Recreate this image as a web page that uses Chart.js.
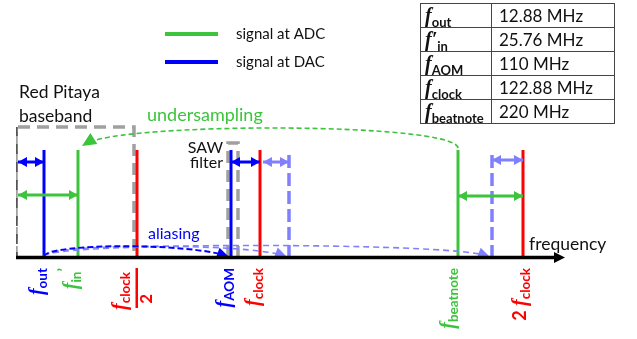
<!DOCTYPE html>
<html>
<head>
<meta charset="utf-8">
<script src="https://cdn.jsdelivr.net/npm/chart.js@4.4.1/dist/chart.umd.min.js"></script>
<style>
  html, body { margin: 0; padding: 0; background: #fff; }
  #wrap { position: relative; width: 637px; height: 339px; }
  #freqTable {
    position: absolute; left: 420px; top: 3px;
    border-collapse: collapse; font-family: Lato, sans-serif; color: #111;
  }
  #freqTable td { border: 1.5px solid #444; height: 23px; padding: 0 0 0 5px; font-size: 17px; line-height: 22px; }
  #freqTable td.sym { width: 66px; padding-left: 4px; white-space: nowrap; }
  #freqTable td.val { width: 115px; padding-left: 7px; }
  .f { font: italic bold 20px "Liberation Serif", serif; }
  .sub { font: bold 13px Lato, sans-serif; position: relative; top: 5px; }
</style>
</head>
<body>
<div id="wrap">
  <canvas id="myChart" width="637" height="339"></canvas>
  <table id="freqTable"></table>
</div>
<script>
// axis units: 1 unit = 2 px in both directions, origin at the left end of the frequency axis
const toneNames = ['out', 'in', 'clock/2', 'AOM', 'clock', 'beatnote', '2 clock'];
const tonePos = [14, 31, 60.5, 107.5, 122, 221, 253.5];
const toneKind = ['dac', 'adc', 'clock', 'dac', 'clock', 'adc', 'clock'];
const toneHeight = 54;

const imagePos = [136.5, 238];

// [from, to, level]
const spanArrows = [[1, 14, 48], [1, 31, 31.5], [107.5, 122, 48], [123.5, 136.5, 48], [238, 253.5, 49], [221, 253.5, 31]];
const spanKind = ['dac', 'adc', 'dac', 'image', 'image', 'adc'];

// [xFrom, xTo, top]
const bands = [[0, 59, 65.5], [106, 111, 57.5]];

// cubic curves: start, control 1, control 2, end
const curves = {
  imageA: [[14, 1], [17, 7.5], [117, 7.5], [135.5, 0.5]],
  imageB: [[14, 1], [17, 8], [217, 8], [237, 0.5]],
  aliasing: [[14, 1], [17, 7.5], [87, 7.5], [106.5, 0.5]],
  undersampling: [[221, 55], [219.5, 68], [52, 68], [33, 56]]
};

const tableSyms = ['out', 'in', 'AOM', 'clock', 'beatnote'];
const tableVals = ['12.88 MHz', '25.76 MHz', '110 MHz', '122.88 MHz', '220 MHz'];

const colors = {
  adc: '#3cc43c',
  dac: '#0000ff',
  clock: '#ff0000',
  image: '#8080ff',
  band: '#a0a0a0'
};

document.addEventListener('DOMContentLoaded', () => {
  const table = document.getElementById('freqTable');
  tableSyms.forEach((s, i) => {
    const prime = s === 'in' ? '\u2032' : '';
    table.insertAdjacentHTML('beforeend',
      `<tr><td class="sym"><span class="f">f${prime}</span><span class="sub">${s}</span></td><td class="val">${tableVals[i]}</td></tr>`);
  });

  const datasets = [];

  spanArrows.forEach(([a, b, lvl], i) => {
    datasets.push({
      data: [{ x: a, y: lvl }, { x: b, y: lvl }],
      borderColor: colors[spanKind[i]],
      borderWidth: 3,
      pointRadius: 0,
      showLine: true,
      arrows: true,
      order: 1
    });
  });

  tonePos.forEach((p, i) => {
    datasets.push({
      data: [{ x: p, y: 0 }, { x: p, y: toneHeight }],
      borderColor: colors[toneKind[i]],
      borderWidth: 3,
      pointRadius: 0,
      showLine: true,
      order: 2
    });
  });

  imagePos.forEach((p) => {
    datasets.push({
      data: [{ x: p, y: 0 }, { x: p, y: toneHeight }],
      borderColor: colors.image,
      borderWidth: 3.5,
      borderDash: [13, 5],
      pointRadius: 0,
      showLine: true,
      order: 3
    });
  });

  bands.forEach(([a, b, top]) => {
    datasets.push({
      data: [{ x: a, y: 0 }, { x: a, y: top }, { x: b, y: top }, { x: b, y: 0 }, { x: a, y: 0 }],
      borderColor: colors.band,
      borderWidth: 3.5,
      borderDash: [12, 7],
      pointRadius: 0,
      showLine: true,
      order: 4
    });
  });
  // left edge of the baseband box: light gray under dark dashes
  datasets.push({
    data: [{ x: bands[0][0], y: 0 }, { x: bands[0][0], y: bands[0][2] }],
    borderColor: '#555',
    borderWidth: 3.5,
    borderDash: [10, 8],
    borderDashOffset: 4,
    pointRadius: 0,
    showLine: true,
    order: 3.5
  });

  const arrowHead = (ctx, tx, ty, dx, dy, len, wid, color) => {
    const n = Math.hypot(dx, dy);
    const ux = dx / n, uy = dy / n;
    ctx.save();
    ctx.fillStyle = color;
    ctx.setLineDash([]);
    ctx.beginPath();
    ctx.moveTo(tx, ty);
    ctx.lineTo(tx - ux * len - uy * wid / 2, ty - uy * len + ux * wid / 2);
    ctx.lineTo(tx - ux * len + uy * wid / 2, ty - uy * len - ux * wid / 2);
    ctx.closePath();
    ctx.fill();
    ctx.restore();
  };

  const drawRotLabel = (ctx, x, yEnd, parts, color) => {
    ctx.save();
    ctx.fillStyle = color;
    let total = 0;
    parts.forEach((p) => { ctx.font = p.font; p.w = ctx.measureText(p.t).width; total += p.w; });
    ctx.translate(x, yEnd);
    ctx.rotate(-Math.PI / 2);
    ctx.textBaseline = 'alphabetic';
    let cx = -total;
    parts.forEach((p) => { ctx.font = p.font; ctx.fillText(p.t, cx, p.off); cx += p.w; });
    ctx.restore();
  };

  const diagramPlugin = {
    id: 'diagram',
    afterDatasetsDraw(chart) {
      const { ctx, scales: { x, y } } = chart;
      const px = (v) => x.getPixelForValue(v);
      const py = (v) => y.getPixelForValue(v);

      // span arrowheads
      chart.data.datasets.forEach((ds, i) => {
        if (!ds.arrows) return;
        const [p0, p1] = chart.getDatasetMeta(i).data;
        arrowHead(ctx, p0.x, p0.y, p0.x - p1.x, 0, 9, 10, ds.borderColor);
        arrowHead(ctx, p1.x, p1.y, p1.x - p0.x, 0, 9, 10, ds.borderColor);
      });

      // curved arrows
      const curveStyle = {
        imageA: [colors.image, 1.6, [6, 4], 12, 11],
        imageB: [colors.image, 1.6, [6, 4], 12, 11],
        aliasing: [colors.dac, 2, [6, 3], 12, 11],
        undersampling: [colors.adc, 1.6, [5, 3], 14, 13]
      };
      Object.entries(curves).forEach(([k, c]) => {
        const [col, lw, dash, len, wid] = curveStyle[k];
        const p = c.map(([a, b]) => [px(a), py(b)]);
        ctx.save();
        ctx.strokeStyle = col;
        ctx.lineWidth = lw;
        ctx.setLineDash(dash);
        ctx.beginPath();
        ctx.moveTo(p[0][0], p[0][1]);
        ctx.bezierCurveTo(p[1][0], p[1][1], p[2][0], p[2][1], p[3][0] - (p[3][0] - p[2][0]) * 0.08, p[3][1] - (p[3][1] - p[2][1]) * 0.08);
        ctx.stroke();
        ctx.restore();
        arrowHead(ctx, p[3][0], p[3][1], p[3][0] - p[2][0], p[3][1] - p[2][1], len, wid, col);
      });

      // frequency axis
      ctx.save();
      ctx.strokeStyle = '#000';
      ctx.lineWidth = 3.5;
      ctx.beginPath();
      ctx.moveTo(px(x.min), py(0) - 0.5);
      ctx.lineTo(px(x.max) - 6, py(0) - 0.5);
      ctx.stroke();
      ctx.restore();
      arrowHead(ctx, px(x.max), py(0) - 0.5, 1, 0, 11, 11, '#000');

      // annotations
      const text = (t, v, u, color, font, align) => {
        ctx.save();
        ctx.fillStyle = color;
        ctx.font = font;
        ctx.textAlign = align || 'left';
        ctx.textBaseline = 'middle';
        ctx.fillText(t, px(v), py(u));
        ctx.restore();
      };
      const cal = '17.5px Lato, sans-serif';
      text('Red Pitaya', 1.5, 83, '#111', cal);
      text('baseband', 1.5, 71, '#111', cal);
      text('undersampling', 65.5, 71.5, colors.adc, '18px Lato, sans-serif');
      text('SAW', 103.5, 55, '#111', '16px Lato, sans-serif', 'right');
      text('filter', 103.5, 47.5, '#111', '16px Lato, sans-serif', 'right');
      text('aliasing', 66, 12, colors.dac, '16px Lato, sans-serif');
      text('frequency', 256.5, 7, '#111', cal);

      // legend
      [['signal at ADC', colors.adc, 34], ['signal at DAC', colors.dac, 62]].forEach(([t, col, yy]) => {
        ctx.save();
        ctx.strokeStyle = col;
        ctx.lineWidth = 4;
        ctx.beginPath();
        ctx.moveTo(165, yy);
        ctx.lineTo(218, yy);
        ctx.stroke();
        ctx.fillStyle = '#111';
        ctx.font = '15px Lato, sans-serif';
        ctx.textBaseline = 'middle';
        ctx.fillText(t, 236, yy);
        ctx.restore();
      });

      // tone labels under the axis, rotated
      const fFont = 'italic bold 20px "Liberation Serif", serif';
      const sFont = 'bold 13.5px Lato, sans-serif';
      const yEnd = py(0) + 10;
      tonePos.forEach((p, i) => {
        const name = toneNames[i];
        const col = colors[toneKind[i]];
        const lx = px(p);
        if (name === 'clock/2') {
          drawRotLabel(ctx, lx - 7, yEnd + 4, [{ t: 'f', font: fFont, off: -4 }, { t: 'clock', font: sFont, off: 0 }], col);
          ctx.save();
          ctx.fillStyle = col;
          ctx.fillRect(lx - 1.5, yEnd, 2.5, 40);
          ctx.restore();
          drawRotLabel(ctx, lx + 15, yEnd + 26, [{ t: '2', font: 'bold 17px Lato, sans-serif', off: 0 }], col);
          return;
        }
        const parts = [];
        let shift = 3;
        if (name === '2 clock') {
          parts.push({ t: '2 ', font: 'bold 18px Lato, sans-serif', off: -4 });
          shift = 7;
        }
        if (name === 'beatnote') shift = 0;
        parts.push({ t: 'f', font: fFont, off: -4 });
        parts.push({ t: name.replace('2 ', ''), font: sFont, off: 0 });
        if (name === 'in') parts.push({ t: '\u2019', font: 'bold 16px Lato, sans-serif', off: -12 });
        drawRotLabel(ctx, lx + shift, yEnd, parts, col);
      });
    }
  };

  new Chart(document.getElementById('myChart'), {
    type: 'scatter',
    data: { datasets },
    options: {
      responsive: false,
      animation: false,
      layout: { padding: { left: 16, right: 72, top: 0, bottom: 81 } },
      scales: {
        x: { type: 'linear', min: 0, max: 274.5, display: false },
        y: { type: 'linear', min: 0, max: 129, display: false }
      },
      plugins: { legend: { display: false }, tooltip: { enabled: false } },
      elements: { line: { tension: 0 } }
    },
    plugins: [diagramPlugin]
  });
});
</script>
</body>
</html>
